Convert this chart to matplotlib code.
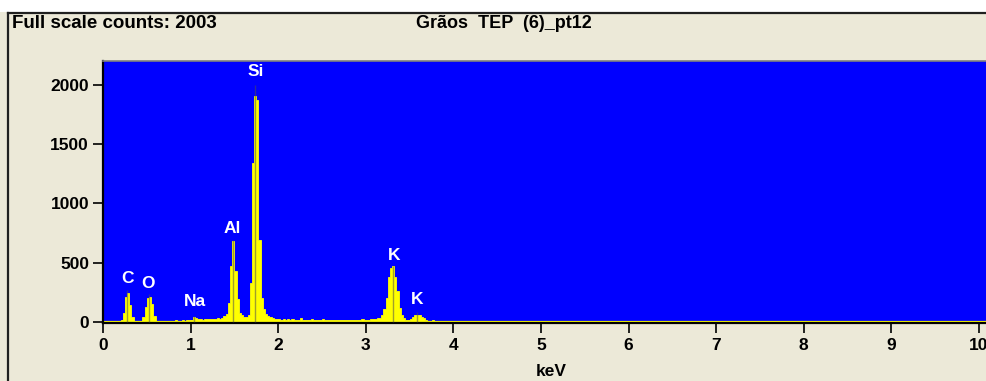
import matplotlib.pyplot as plt
from matplotlib.lines import Line2D
from matplotlib.patches import Rectangle
import numpy as np

plt.rcParams["font.family"] = ["Liberation Sans", "DejaVu Sans"]

# EDS spectrum: 25 eV channels starting at 0.100 keV (left edges)
CHANNEL_START_KEV = 0.100
CHANNEL_WIDTH_KEV = 0.025
channel_counts = [
    3, 2, 4, 8, 20, 80, 210, 245, 140, 45,           # 0.100
    10, 4, 3, 10, 40, 130, 200, 215, 150, 50,        # 0.350
    12, 4, 2, 6, 3, 9, 4, 11, 5, 13,                 # 0.600
    7, 10, 15, 11, 17, 13, 20, 40, 30, 22,           # 0.850
    25, 21, 26, 23, 28, 24, 27, 25, 30, 28,          # 1.100
    33, 50, 70, 160, 470, 680, 430, 190, 80, 55,     # 1.350
    45, 38, 55, 330, 1340, 1905, 1875, 690, 200, 110,  # 1.600
    70, 50, 40, 30, 25, 22, 28, 20, 24, 18,          # 1.850
    22, 17, 25, 19, 21, 16, 30, 18, 20, 15,          # 2.100
    19, 22, 16, 20, 14, 18, 25, 15, 17, 13,          # 2.350
    18, 14, 16, 20, 13, 17, 15, 19, 14, 16,          # 2.600
    18, 15, 20, 17, 22, 19, 21, 18, 24, 22,          # 2.850
    26, 30, 35, 60, 110, 200, 380, 455, 470, 380,    # 3.100
    260, 120, 55, 30, 20, 18, 25, 40, 55, 60,        # 3.350
    55, 40, 30, 20, 12, 8, 14, 6, 10, 5,             # 3.600
    12, 4, 9, 3, 11, 5, 8, 2, 10, 4,                 # 3.850
    6, 2, 8, 3, 5, 2, 4, 1, 6, 2,                    # 4.100
    3, 1, 4, 0, 2, 0, 8, 0, 10, 0,                   # 4.350
    9, 0, 0, 0, 2, 0, 0, 0, 0, 0,                    # 4.600
    0, 0, 0, 0, 0, 6, 0, 0, 0, 0,                    # 4.850
    0, 0, 0, 0, 0, 0, 0, 0, 0, 0,                    # 5.100
    0, 0, 0, 0, 6, 0, 0, 0, 0, 0,                    # 5.350
]

# KLM marker lines and peak labels
marker_kev = [0.277, 0.525, 1.041, 1.487, 1.740, 3.313, 3.590]
marker_top = [270, 236, 50, 690, 2000, 475, 85]
peak_labels = ["C", "O", "Na", "Al", "Si", "K", "K"]
label_kev = [0.274, 0.514, 1.05, 1.48, 1.747, 3.32, 3.585]
label_counts = [371, 329, 169, 785, 2110, 565, 186]

full_scale = 2003
sample_name = "Grãos  TEP  (6)_pt12"

BEIGE = "#ECE9D8"
BLUE = "#0000FF"
YELLOW = "#FFFF00"

W, H = 987, 381
fig = plt.figure(figsize=(W / 100, H / 100), dpi=100, facecolor=BEIGE)

# window frame: white strip on top, dark border lines
fig.patches.append(Rectangle((0, 1 - 12 / H), 1, 12 / H, transform=fig.transFigure,
                             facecolor="white", edgecolor="none", zorder=0))
fig.lines.append(Line2D([8 / W, 1], [1 - 12.5 / H] * 2, transform=fig.transFigure,
                        color="#202020", lw=1.6))
fig.lines.append(Line2D([8 / W] * 2, [0, 1 - 12.5 / H], transform=fig.transFigure,
                        color="#202020", lw=1.6))

fig.text(12 / W, 1 - 24 / H, f"Full scale counts: {full_scale}", fontsize=13.5,
         fontweight="bold", ha="left", va="center")
fig.text(504 / W, 1 - 24 / H, sample_name, fontsize=13, fontweight="bold",
         ha="center", va="center")
fig.text(551 / W, 1 - 371 / H, "keV", fontsize=12.5, fontweight="bold",
         ha="center", va="center")

ax_left, ax_top, ax_bottom = 103, 61, 323
ax = fig.add_axes([ax_left / W, (H - ax_bottom) / H, (W - ax_left) / W,
                   (ax_bottom - ax_top) / H])
ax.set_facecolor(BLUE)

px_per_kev = 87.6
px_per_count = 0.1185
ax.set_xlim(0, (W - ax_left) / px_per_kev)
ax.set_ylim(-1 / px_per_count, (322 - ax_top) / px_per_count)

edges = CHANNEL_START_KEV + CHANNEL_WIDTH_KEV * np.arange(len(channel_counts) + 1)
ax.stairs(channel_counts, edges, fill=True, color=YELLOW, lw=0.6, ec=YELLOW, zorder=2)
ax.axhline(0, color=YELLOW, lw=1.6, zorder=2)

ax.vlines(marker_kev, 0, marker_top, color="#505050", alpha=0.55, lw=1.0, zorder=3)

for name, x, y in zip(peak_labels, label_kev, label_counts):
    ax.text(x, y, name, color="white", fontsize=12.5, fontweight="bold",
            ha="center", va="center", zorder=4)

ax.set_xticks(range(0, 11))
ax.set_yticks([0, 500, 1000, 1500, 2000])
ax.tick_params(axis="both", direction="out", length=7, width=1.2, color="black",
               labelsize=12.5)
ax.tick_params(axis="y", pad=3)
ax.tick_params(axis="x", pad=4)
for lbl in ax.get_xticklabels() + ax.get_yticklabels():
    lbl.set_fontweight("bold")

ax.spines["left"].set_color("black")
ax.spines["left"].set_linewidth(1.6)
ax.spines["bottom"].set_color("black")
ax.spines["bottom"].set_linewidth(1.6)
ax.spines["top"].set_color("#808080")
ax.spines["top"].set_linewidth(1.2)
ax.spines["right"].set_visible(False)

fig.savefig("out.png", dpi=100, facecolor=BEIGE)
